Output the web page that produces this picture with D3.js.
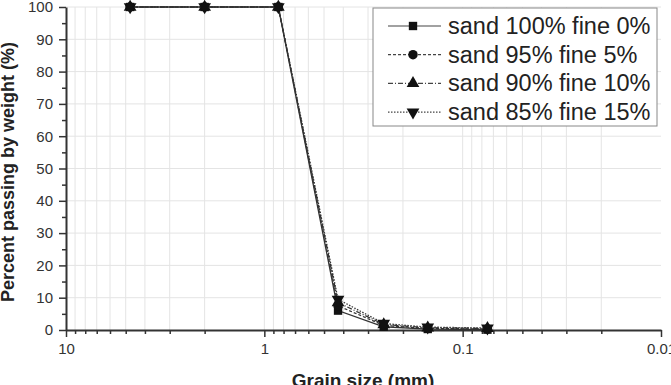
<!DOCTYPE html>
<html>
<head>
<meta charset="utf-8">
<script src="https://cdn.jsdelivr.net/npm/d3@7"></script>
<style>
  body { margin: 0; background: #fff; }
  text { font-family: "Liberation Sans", Arial, sans-serif; }
</style>
</head>
<body>
<svg id="chart"></svg>
<script>
// sieve sizes (mm) and percent passing for each mix
const sizes = [4.75, 2.0, 0.85, 0.425, 0.25, 0.15, 0.075];
const seriesNames = ["sand 100% fine 0%", "sand 95% fine 5%", "sand 90% fine 10%", "sand 85% fine 15%"];
const sand100 = [100, 100, 100, 6.0, 1.0, 0.3, 0.1];
const sand95 = [100, 100, 100, 7.5, 1.4, 0.5, 0.3];
const sand90 = [100, 100, 100, 8.5, 1.7, 0.7, 0.5];
const sand85 = [100, 100, 100, 9.5, 2.0, 0.9, 0.6];
const xTickLabels = [10, 1, 0.1, 0.01];
const yTicks = [0, 10, 20, 30, 40, 50, 60, 70, 80, 90, 100];

const width = 671, height = 385;
const margin = {top: 7, right: 10, bottom: 55, left: 66};

const svg = d3.select("#chart").attr("width", width).attr("height", height);

const x = d3.scaleLog().domain([10, 0.01]).range([margin.left, width - margin.right]);
const y = d3.scaleLinear().domain([0, 100]).range([height - margin.bottom, margin.top]);

// minor log ticks 2..9 within each decade
const xMinor = [];
[0.01, 0.1, 1].forEach(d => { for (let k = 2; k <= 9; k++) xMinor.push(d * k); });

// grid
const grid = svg.append("g").attr("stroke", "#e4e4e4").attr("stroke-width", 1);
grid.selectAll("line.v").data(xMinor.concat([1, 0.1])).enter().append("line")
    .attr("x1", d => x(d)).attr("x2", d => x(d))
    .attr("y1", y(0)).attr("y2", y(100));
grid.selectAll("line.h").data(yTicks.slice(1)).enter().append("line")
    .attr("x1", x(10)).attr("x2", x(0.01))
    .attr("y1", d => y(d)).attr("y2", d => y(d));

// x axis
const xAxis = svg.append("g").attr("transform", `translate(0,${y(0)})`)
    .call(d3.axisBottom(x).tickValues(xTickLabels).tickFormat(d3.format("")).tickSize(7).tickSizeOuter(0));
svg.append("g").attr("transform", `translate(0,${y(0)})`)
    .call(d3.axisBottom(x).tickValues(xMinor).tickFormat("").tickSize(4).tickSizeOuter(0))
    .select(".domain").remove();

// y axis
const yAxis = svg.append("g").attr("transform", `translate(${x(10)},0)`)
    .call(d3.axisLeft(y).tickValues(yTicks).tickSize(7).tickSizeOuter(0));
svg.append("g").attr("transform", `translate(${x(10)},0)`)
    .call(d3.axisLeft(y).tickValues(d3.range(5, 100, 10)).tickFormat("").tickSize(4).tickSizeOuter(0))
    .select(".domain").remove();

svg.selectAll(".domain").attr("stroke", "#333").attr("stroke-width", 2);
svg.selectAll(".tick line").attr("stroke", "#333").attr("stroke-width", 1.5);
svg.selectAll(".tick text").attr("font-size", 15).attr("fill", "#333")
    .attr("font-family", "'Liberation Sans', Arial, sans-serif");
xAxis.selectAll(".tick text").attr("dy", null).attr("y", 24);
yAxis.selectAll(".tick text").attr("x", -13);

// axis titles
svg.append("text").attr("x", 363).attr("y", 387).attr("text-anchor", "middle")
    .attr("font-size", 19).attr("font-weight", "bold").attr("fill", "#222")
    .text("Grain size (mm)");
svg.append("text").attr("transform", `translate(14,${172}) rotate(-90)`)
    .attr("text-anchor", "middle").attr("font-size", 18).attr("font-weight", "bold").attr("fill", "#222")
    .text("Percent passing by weight (%)");

// series
const allSeries = [sand100, sand95, sand90, sand85];
const dashes = [null, "3,2", "5,2,1,2", "1.5,1.5"];
const shapes = [d3.symbolSquare, d3.symbolCircle, d3.symbolTriangle, d3.symbolTriangle];
const rot = [0, 0, 0, 180];

const line = d3.line().x(d => x(d[0])).y(d => y(d[1]));

allSeries.forEach((vals, i) => {
  const pts = sizes.map((s, j) => [s, vals[j]]);
  const g = svg.append("g");
  g.append("path").datum(pts).attr("d", line)
      .attr("fill", "none").attr("stroke", "#333").attr("stroke-width", 1.3)
      .attr("stroke-dasharray", dashes[i]);
  g.selectAll("path.m").data(pts).enter().append("path")
      .attr("d", d3.symbol().type(shapes[i]).size(70))
      .attr("transform", d => `translate(${x(d[0])},${y(d[1])}) rotate(${rot[i]})`)
      .attr("fill", "#111");
});

// legend
const lg = svg.append("g");
lg.append("rect").attr("x", 373).attr("y", 8).attr("width", 284).attr("height", 118)
    .attr("fill", "#fff").attr("stroke", "#888").attr("stroke-width", 1);
seriesNames.forEach((name, i) => {
  const cy = 26 + i * 28.7;
  lg.append("line").attr("x1", 388).attr("x2", 441).attr("y1", cy).attr("y2", cy)
      .attr("stroke", "#444").attr("stroke-width", 1.2).attr("stroke-dasharray", dashes[i]);
  lg.append("path").attr("d", d3.symbol().type(shapes[i]).size(70))
      .attr("transform", `translate(413,${cy}) rotate(${rot[i]})`).attr("fill", "#111");
  lg.append("text").attr("x", 448).attr("y", cy + 8).attr("font-size", 23.5).attr("fill", "#222")
      .text(name);
});
</script>
</body>
</html>
